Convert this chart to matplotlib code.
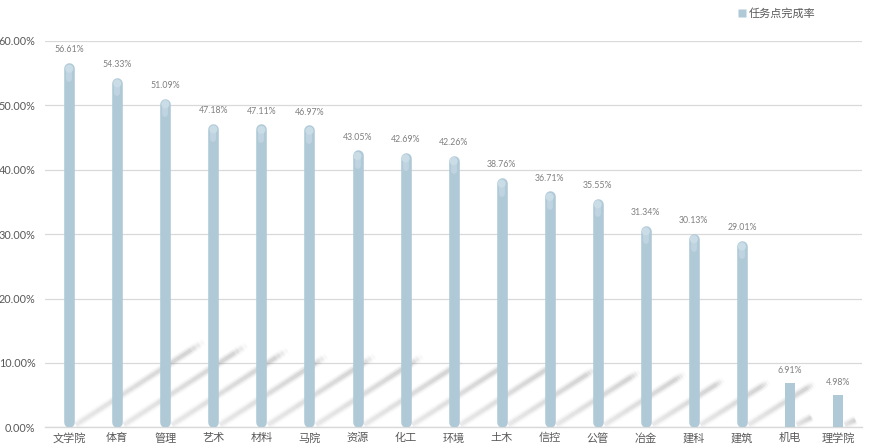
import numpy as np
import matplotlib.pyplot as plt
from matplotlib.collections import LineCollection
from matplotlib.lines import Line2D

plt.rcParams['font.family'] = ['Noto Sans CJK SC', 'DejaVu Sans']

# data
colleges = ['文学院', '体育', '管理', '艺术', '材料', '马院', '资源', '化工', '环境',
            '土木', '信控', '公管', '冶金', '建科', '建筑', '机电', '理学院']
rates = [56.61, 54.33, 51.09, 47.18, 47.11, 46.97, 43.05, 42.69, 42.26,
         38.76, 36.71, 35.55, 31.34, 30.13, 29.01, 6.91, 4.98]
yticks = [0, 10, 20, 30, 40, 50, 60]

bar_color = '#afc9d7'
cap_color = '#cadde7'

fig = plt.figure(figsize=(8.69, 4.48), dpi=100)
ax = fig.add_axes([0.052, 0.046, 0.940, 0.8625])
ax.set_xlim(-0.5, len(colleges) - 0.5)
ax.set_ylim(0, 60)

x = np.arange(len(colleges))
bar_lw = 7.6            # points, ~10.5 px wide
r = 0.82                # half bar width expressed in y data units

# perspective shadows (soft diagonal streaks)
for xi, v in zip(x, rates):
    x0, y0 = xi + 0.14, 0.4
    x1, y1 = xi + 0.14 + 0.047 * v, 0.235 * v
    n = 30
    t = np.linspace(0, 1, n + 1)
    px = x0 + (x1 - x0) * t
    py = y0 + (y1 - y0) * t
    segs = [[(px[i], py[i]), (px[i + 1], py[i + 1])] for i in range(n)]
    tm = (t[:-1] + t[1:]) / 2
    prof = (0.45 + 0.55 * tm) * np.clip((1 - tm) / 0.12, 0, 1)
    for lw, a in [(6.5, 0.07), (4.5, 0.12), (2.5, 0.2)]:
        cols = [(0.5, 0.5, 0.5, a * p) for p in prof]
        ax.add_collection(LineCollection(segs, colors=cols, linewidths=lw,
                                         capstyle='butt', zorder=1))

# bars
for xi, v in zip(x, rates):
    if v > 10:
        ax.plot([xi, xi], [r, v - r], color=bar_color, lw=bar_lw,
                solid_capstyle='round', zorder=3)
        ax.scatter([xi], [v - r * 1.1], s=34, color=cap_color, edgecolors='none', zorder=4)
        ax.plot([xi, xi], [v - r * 3.0, v - r * 1.2], color=cap_color, lw=bar_lw * 0.55,
                solid_capstyle='round', alpha=0.6, zorder=4)
    else:
        ax.bar(xi, v, width=0.22, color=bar_color, zorder=3)
    ax.text(xi, v + 1.3, f'{v:.2f}%', ha='center', va='bottom', fontsize=6.3,
            color='#7f7f7f', zorder=5, family=['Lato', 'DejaVu Sans'])

ax.set_yticks(yticks)
ax.set_yticklabels([f'{t:.2f}%' for t in yticks], family=['Lato', 'DejaVu Sans'])
ax.set_xticks(x)
ax.set_xticklabels(colleges)
ax.tick_params(axis='y', length=0, labelsize=7.8, labelcolor='#595959', pad=7)
ax.tick_params(axis='x', length=0, labelsize=8, labelcolor='#595959', pad=4)
ax.yaxis.grid(True, color='#d9d9d9', lw=0.9, zorder=0)
ax.set_axisbelow(True)
for s in ['top', 'right', 'left']:
    ax.spines[s].set_visible(False)
ax.spines['bottom'].set_color('#d9d9d9')
ax.spines['bottom'].set_linewidth(1.0)

handle = Line2D([], [], marker='s', color='none', markerfacecolor=bar_color,
                markeredgecolor='none', markersize=6)
fig.legend([handle], ['任务点完成率'], loc='center left', bbox_to_anchor=(0.842, 0.969),
           frameon=False, fontsize=8, labelcolor='#595959', handletextpad=0.2,
           handlelength=0.8, borderpad=0)

fig.savefig('out.png', dpi=100)
